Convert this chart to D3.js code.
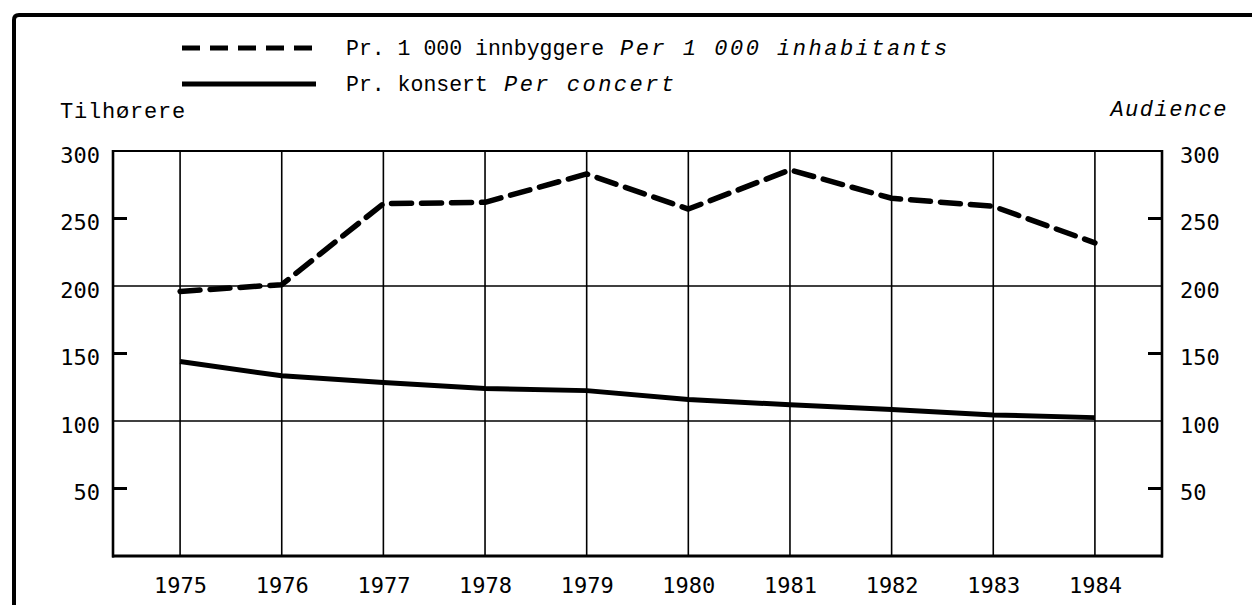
<!DOCTYPE html>
<html>
<head>
<meta charset="utf-8">
<script src="https://cdn.jsdelivr.net/npm/d3@7"></script>
<style>
  html, body { margin: 0; padding: 0; background: #fff; }
  svg { display: block; }
</style>
</head>
<body>
<svg id="chart" width="1252" height="605"></svg>
<script>
// ---- data ----
const years = ["1975","1976","1977","1978","1979","1980","1981","1982","1983","1984"];
const perThousand = [196, 201, 261, 262, 283, 257, 286, 265, 259, 232];
const perConcert = [144, 133.5, 128.5, 124, 122.5, 116, 112, 108.5, 104.5, 102.5];
const yTickValues = [50, 100, 150, 200, 250, 300];
const gridValues = [100, 200];
const minorTickValues = [50, 150, 250];
const legendLabels = ["Pr. 1 000 innbyggere", "Pr. konsert"];
const legendLabelsEn = ["Per 1 000 inhabitants", "Per concert"];
const yTitleLeft = "Tilhørere";
const yTitleRight = "Audience";

// ---- layout ----
const svg = d3.select("#chart");
const L = 113, R = 1162, T = 151, B = 556;
const x = d3.scalePoint().domain(years).range([L, R]).padding(0.66);
const y = d3.scaleLinear().domain([0, 300]).range([B, T]);

const monoSerif = "'Liberation Mono', 'Courier New', monospace";
const monoSans = "'DejaVu Sans Mono', monospace";

// outer frame
svg.append("path")
  .attr("d", `M14,605 L14,20 Q14,15 19,15 L1252,15`)
  .attr("fill", "none").attr("stroke", "#000").attr("stroke-width", 4);

// vertical gridlines
svg.append("g").selectAll("line").data(years).join("line")
  .attr("x1", d => x(d)).attr("x2", d => x(d))
  .attr("y1", y(300)).attr("y2", y(0))
  .attr("stroke", "#000").attr("stroke-width", 1.6);

// horizontal gridlines
svg.append("g").selectAll("line").data(gridValues).join("line")
  .attr("x1", L).attr("x2", R)
  .attr("y1", d => y(d)).attr("y2", d => y(d))
  .attr("stroke", "#000").attr("stroke-width", 1.6);

// minor inner ticks
const mt = svg.append("g");
mt.selectAll("line.l").data(minorTickValues).join("line").attr("class","l")
  .attr("x1", L).attr("x2", L + 14)
  .attr("y1", d => y(d)).attr("y2", d => y(d))
  .attr("stroke", "#000").attr("stroke-width", 3);
mt.selectAll("line.r").data(minorTickValues).join("line").attr("class","r")
  .attr("x1", R - 14).attr("x2", R)
  .attr("y1", d => y(d)).attr("y2", d => y(d))
  .attr("stroke", "#000").attr("stroke-width", 3);

// plot border
svg.append("line").attr("x1", L).attr("x2", R).attr("y1", y(300)).attr("y2", y(300))
  .attr("stroke", "#000").attr("stroke-width", 2);
svg.append("line").attr("x1", L).attr("x2", L).attr("y1", y(300) - 1).attr("y2", y(0) + 1.5)
  .attr("stroke", "#000").attr("stroke-width", 2.6);
svg.append("line").attr("x1", R).attr("x2", R).attr("y1", y(300) - 1).attr("y2", y(0) + 1.5)
  .attr("stroke", "#000").attr("stroke-width", 2.6);
svg.append("line").attr("x1", L - 1).attr("x2", R + 1).attr("y1", y(0)).attr("y2", y(0))
  .attr("stroke", "#000").attr("stroke-width", 3);

// axes (labels only)
function styleAxis(g) {
  g.select(".domain").remove();
  g.selectAll(".tick line").remove();
  g.selectAll("text").attr("font-family", monoSans).attr("font-size", 22).attr("fill", "#000");
}
svg.append("g").attr("transform", `translate(${L},0)`)
  .call(d3.axisLeft(y).tickValues(yTickValues).tickSize(0).tickPadding(13))
  .call(styleAxis)
  .selectAll("text").attr("dy", "0.52em");
svg.append("g").attr("transform", `translate(${R},0)`)
  .call(d3.axisRight(y).tickValues(yTickValues).tickSize(0).tickPadding(18))
  .call(styleAxis)
  .selectAll("text").attr("dy", "0.52em");
svg.append("g").attr("transform", `translate(0,${y(0)})`)
  .call(d3.axisBottom(x).tickSize(0).tickPadding(21))
  .call(styleAxis);

// lines
const line = d3.line().x((d, i) => x(years[i])).y(d => y(d));
svg.append("path").datum(perThousand)
  .attr("d", line).attr("fill", "none").attr("stroke", "#000")
  .attr("stroke-width", 5.5).attr("stroke-dasharray", "20,10")
  .attr("stroke-linecap", "round").attr("stroke-linejoin", "round");
svg.append("path").datum(perConcert)
  .attr("d", line).attr("fill", "none").attr("stroke", "#000")
  .attr("stroke-width", 5).attr("stroke-linejoin", "round");

// legend
const lg = svg.append("g");
const legY = [48, 84];
lg.append("line").attr("x1", 182).attr("x2", 316).attr("y1", legY[0]).attr("y2", legY[0])
  .attr("stroke", "#000").attr("stroke-width", 5).attr("stroke-dasharray", "18,10");
lg.append("line").attr("x1", 182).attr("x2", 316).attr("y1", legY[1]).attr("y2", legY[1])
  .attr("stroke", "#000").attr("stroke-width", 5);
legendLabels.forEach((lab, i) => {
  const t = lg.append("text").attr("x", 346).attr("y", legY[i] + 7)
    .attr("font-family", monoSerif).attr("font-size", 21.5).attr("fill", "#000");
  t.append("tspan").text(lab);
  t.append("tspan").attr("dx", 16).attr("font-style", "italic")
    .attr("font-size", 22).attr("letter-spacing", 2.5).text(legendLabelsEn[i]);
});

// axis titles
svg.append("text").attr("x", 60).attr("y", 118).text(yTitleLeft)
  .attr("font-family", monoSerif).attr("font-size", 22).attr("letter-spacing", 0.8).attr("fill", "#000");
svg.append("text").attr("x", 1228).attr("y", 116).attr("text-anchor", "end").text(yTitleRight)
  .attr("font-family", monoSerif).attr("font-style", "italic").attr("font-size", 22).attr("letter-spacing", 1.5).attr("fill", "#000");
</script>
</body>
</html>
